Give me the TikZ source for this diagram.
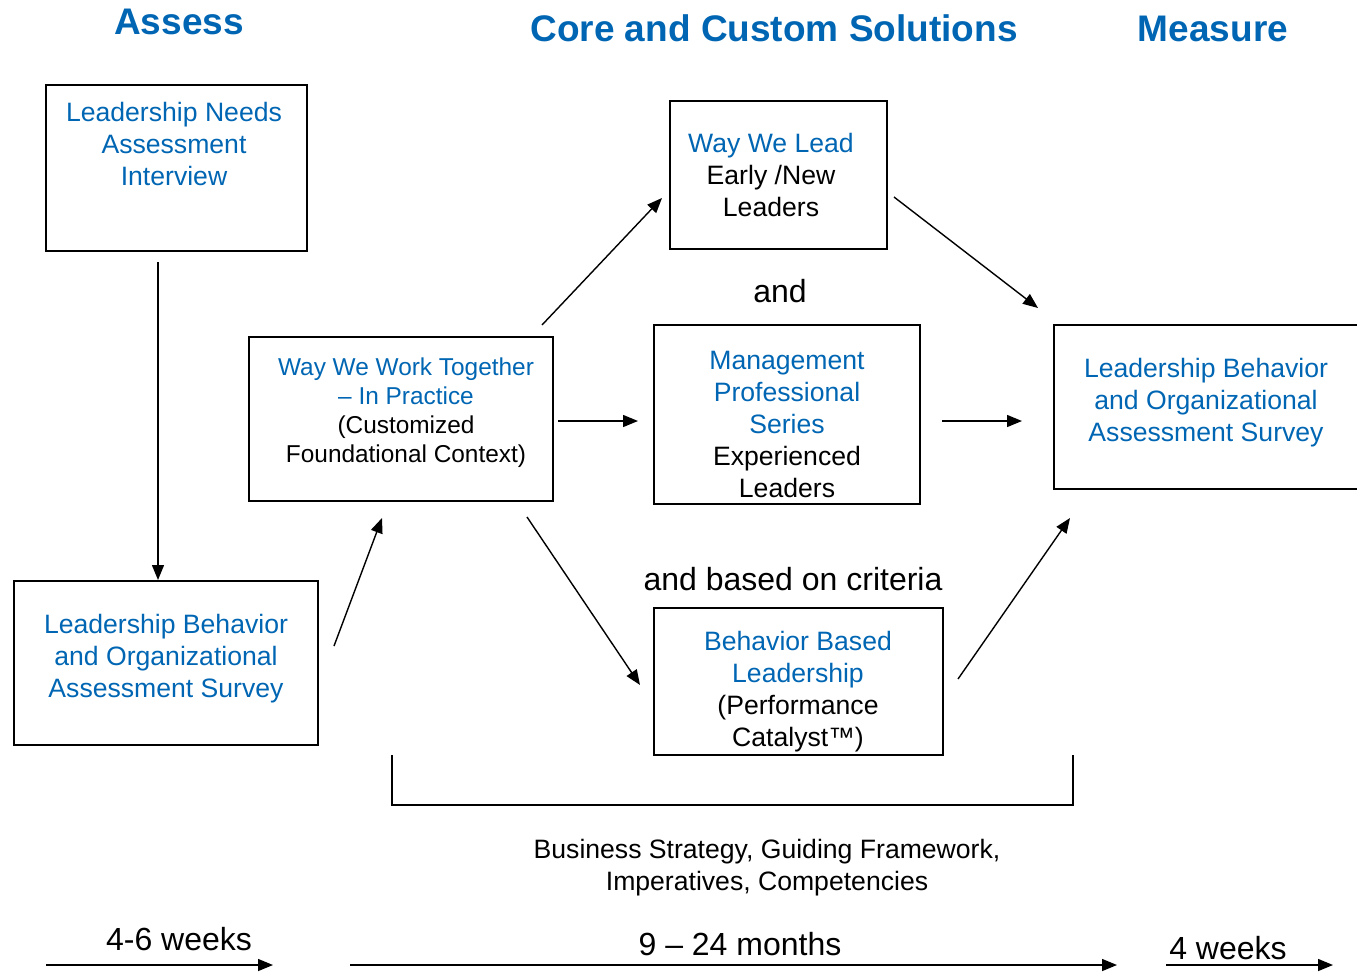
\documentclass[tikz,border=0pt]{standalone}
\usepackage{fontspec}
\setmainfont{Liberation Sans}
\usetikzlibrary{arrows.meta}
\definecolor{hdblue}{RGB}{0,102,179}
\newcommand{\bl}[1]{\textcolor{hdblue}{#1}}

\tikzset{
  box/.style={draw, line width=1.6pt, inner sep=0pt},
  txt/.style={align=center, font=\fontsize{26.6}{32}\selectfont},
  smalltxt/.style={align=center, font=\fontsize{24.4}{29}\selectfont},
  bigtxt/.style={font=\fontsize{32}{36}\selectfont},
  header/.style={text=hdblue, font=\fontsize{37}{40}\selectfont\bfseries},
  flow/.style={-{Triangle[length=15pt,width=12pt]}, line width=1.4pt},
}

\begin{document}
\begin{tikzpicture}[x=1pt,y=-1pt]
    \useasboundingbox (0,0) rectangle (1357,975);

    % column headers
    \node [header] (hassess) at (179,22) {Assess};
    \node [header] (hcore) at (774,28) {Core and Custom Solutions};
    \node [header] (hmeasure) at (1213,29) {Measure};

    % boxes
    \node [box, minimum width=261pt, minimum height=166pt] (lna) at (176.5,168) {};
    \node [txt] (lnat) at (174,144) {\bl{Leadership Needs}\\\bl{Assessment}\\\bl{Interview}};

    \node [box, minimum width=304pt, minimum height=164pt] (lbl) at (166,663) {};
    \node [txt] (lblt) at (166,659) {\bl{Leadership Behavior}\\\bl{and Organizational}\\\bl{Assessment Survey}};

    \node [box, minimum width=304pt, minimum height=164pt] (wwwt) at (401,419) {};
    \node [smalltxt] (wwwtt) at (406,413) {\bl{Way We Work Together}\\\bl{-- In Practice}\\(Customized\\Foundational Context)};

    \node [box, minimum width=217pt, minimum height=148pt] (wwl) at (778.5,175) {};
    \node [txt] (wwlt) at (771,175) {\bl{Way We Lead}\\Early /New\\Leaders};

    \node [box, minimum width=266pt, minimum height=179pt] (mps) at (787,414.5) {};
    \node [txt] (mpst) at (787,424) {\bl{Management}\\\bl{Professional}\\\bl{Series}\\Experienced\\Leaders};

    \node [box, minimum width=289pt, minimum height=147pt] (bbl) at (798.5,681.5) {};
    \node [txt] (bblt) at (798,692) {\bl{Behavior Based}\\\bl{Leadership}\\(Performance\\Catalyst\texttrademark)};

    \node [box, minimum width=305pt, minimum height=164pt] (lbr) at (1206.5,407) {};
    \node [txt] (lbrt) at (1206,403) {\bl{Leadership Behavior}\\\bl{and Organizational}\\\bl{Assessment Survey}};

    % joining words
    \node [bigtxt] (and) at (780,291) {and};
    \node [bigtxt] (andc) at (793,579) {and based on criteria};

    % arrow end points
    \coordinate (a1s) at (158,262);  \coordinate (a1e) at (158,580);
    \coordinate (a2s) at (334,646);  \coordinate (a2e) at (382,518);
    \coordinate (a3s) at (542,325);  \coordinate (a3e) at (662,198);
    \coordinate (a4s) at (558,421);  \coordinate (a4e) at (638,421);
    \coordinate (a5s) at (527,517);  \coordinate (a5e) at (640,685);
    \coordinate (a6s) at (894,197);  \coordinate (a6e) at (1038,308);
    \coordinate (a7s) at (942,421);  \coordinate (a7e) at (1022,421);
    \coordinate (a8s) at (958,679);  \coordinate (a8e) at (1070,518);

    \draw [flow] (a1s) -- (a1e);
    \draw [flow] (a2s) -- (a2e);
    \draw [flow] (a3s) -- (a3e);
    \draw [flow] (a4s) -- (a4e);
    \draw [flow] (a5s) -- (a5e);
    \draw [flow] (a6s) -- (a6e);
    \draw [flow] (a7s) -- (a7e);
    \draw [flow] (a8s) -- (a8e);

    % bracket and its caption
    \draw [line width=1.4pt] (392,755) -- (392,805) -- (1073,805) -- (1073,755);
    \node [txt] (biz) at (767,868) {Business Strategy, Guiding Framework,\\Imperatives, Competencies};

    % time line
    \node [bigtxt] (tw1) at (179,939) {4-6 weeks};
    \node [bigtxt] (tm) at (740,944) {9 -- 24 months};
    \node [bigtxt] (tw2) at (1228,948) {4 weeks};
    \coordinate (t1s) at (46,965);   \coordinate (t1e) at (273,965);
    \coordinate (t2s) at (350,965);  \coordinate (t2e) at (1117,965);
    \coordinate (t3s) at (1166,965); \coordinate (t3e) at (1333,965);
    \draw [flow] (t1s) -- (t1e);
    \draw [flow] (t2s) -- (t2e);
    \draw [flow] (t3s) -- (t3e);
\end{tikzpicture}
\end{document}
